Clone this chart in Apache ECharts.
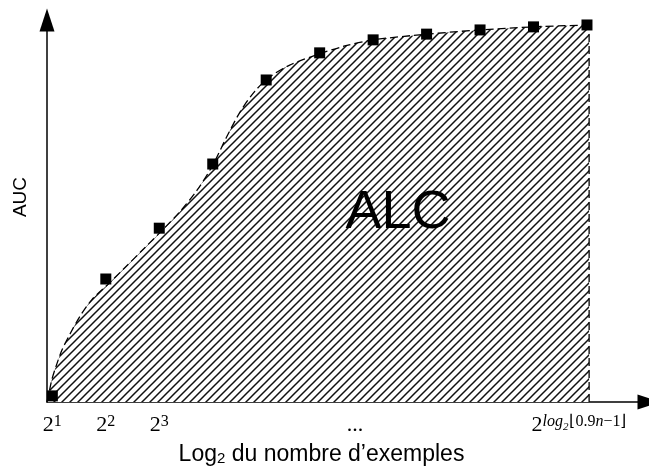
<!DOCTYPE html>
<html><head><meta charset="utf-8">
<script src="https://cdn.jsdelivr.net/npm/echarts@6/dist/echarts.min.js"></script>
<style>html,body{margin:0;padding:0;background:#fff}#c{width:649px;height:468px}</style>
</head><body><div id="c"></div>
<script>
// Square markers: x = log2 exponent, y = AUC (relative)
const markX = [1, 2, 3, 4, 5, 6, 7, 8, 9, 10, 11];
const markY = [0.016, 0.322, 0.455, 0.623, 0.843, 0.914, 0.948, 0.963, 0.974, 0.982, 0.987];
// Dashed learning curve
const curveX = [0.9, 0.94, 0.99, 1.07, 1.18, 1.33, 1.52, 1.74, 2.04, 2.36, 2.73, 3.03, 3.39, 3.71, 4.0, 4.25, 4.51, 4.79, 5.07, 5.44, 5.99, 6.47, 7.0, 8.02, 9.0, 9.99, 11.04];
const curveY = [0, 0.026, 0.058, 0.094, 0.136, 0.178, 0.225, 0.268, 0.308, 0.352, 0.404, 0.446, 0.499, 0.555, 0.62, 0.691, 0.759, 0.814, 0.851, 0.882, 0.911, 0.932, 0.948, 0.963, 0.974, 0.982, 0.987];
// Right edge of the area
const edgeX = [11.04, 11.04];
const edgeY = [0, 0.987];
// X tick labels
const tickValues = [1, 2, 3, 6.66, 10.85];
const tickLabels = [
  '{b|2}{sup|1}',
  '{b|2}{sup|2}',
  '{b|2}{sup|3}',
  '{b|...}',
  '{b|2}{si|log}{ss|2}{sup|\u230A0.9}{si|n}{sup|\u22121\u230B}'
];
const xAxisName = '{n|Log}{s|2}{n| du nombre d\u2019exemples}';
const yAxisName = 'AUC';
const areaText = 'ALC';

function hatch() {
  const s = 8;
  const c = document.createElement('canvas');
  c.width = s; c.height = s;
  const g = c.getContext('2d');
  g.fillStyle = '#fff'; g.fillRect(0, 0, s, s);
  g.strokeStyle = '#111'; g.lineWidth = 1.5;
  g.beginPath();
  g.moveTo(0, s); g.lineTo(s, 0);
  g.moveTo(-s / 2, s / 2); g.lineTo(s / 2, -s / 2);
  g.moveTo(s / 2, s * 1.5); g.lineTo(s * 1.5, s / 2);
  g.stroke();
  return c;
}

const zip = (a, b) => a.map((v, i) => [v, b[i]]);
const serif = 'Liberation Serif, Times New Roman, serif';
const sans = 'Liberation Sans, Arial, sans-serif';
const dash = { color: '#000', width: 1.3, type: [8, 4] };

const chart = echarts.init(document.getElementById('c'), null, { renderer: 'canvas' });
chart.setOption({
  animation: false,
  backgroundColor: '#fff',
  grid: { left: 47, right: 0, top: 20, bottom: 66, containLabel: false, outerBoundsMode: 'none' },
  xAxis: {
    type: 'value', min: 0.9, max: 12.16,
    axisLine: { show: true, symbol: ['none', 'triangle'], symbolSize: [15, 23], lineStyle: { color: '#000', width: 1.5 } },
    axisTick: { show: false },
    splitLine: { show: false },
    axisLabel: {
      customValues: tickValues,
      margin: 12,
      showMinLabel: true, showMaxLabel: true,
      formatter: function (v) {
        let best = 0;
        tickValues.forEach((t, i) => { if (Math.abs(t - v) < Math.abs(tickValues[best] - v)) best = i; });
        return tickLabels[best];
      },
      rich: {
        b: { fontFamily: serif, fontSize: 22, lineHeight: 22, color: '#000', verticalAlign: 'top' },
        sup: { fontFamily: serif, fontSize: 16, lineHeight: 15, color: '#000', verticalAlign: 'top' },
        si: { fontFamily: serif, fontStyle: 'italic', fontSize: 16, lineHeight: 15, color: '#000', verticalAlign: 'top' },
        ss: { fontFamily: serif, fontStyle: 'italic', fontSize: 11, lineHeight: 10, color: '#000', verticalAlign: 'top', padding: [8, 1, 0, 0] }
      }
    },
    name: xAxisName,
    nameLocation: 'middle',
    nameGap: 41,
    nameTextStyle: {
      padding: [0, 53, 0, 0],
      rich: {
        n: { fontFamily: sans, fontSize: 23, lineHeight: 23, color: '#000' },
        s: { fontFamily: sans, fontSize: 15, lineHeight: 10, color: '#000', verticalAlign: 'bottom' }
      }
    }
  },
  yAxis: {
    type: 'value', min: 0, max: 1,
    axisLine: { show: true, symbol: ['none', 'triangle'], symbolSize: [15, 23], lineStyle: { color: '#000', width: 1.5 } },
    axisTick: { show: false },
    axisLabel: { show: false },
    splitLine: { show: false },
    name: yAxisName,
    nameLocation: 'middle',
    nameRotate: 90,
    nameGap: 17,
    nameTextStyle: { fontFamily: sans, fontSize: 19, color: '#000', padding: [0, 0, 0, 28] }
  },
  graphic: [{
    type: 'text', x: 398, y: 213, z: 100,
    style: { text: areaText, fontFamily: sans, fontSize: 54, fill: '#000', align: 'center', verticalAlign: 'middle' }
  }],
  series: [
    {
      type: 'line', data: zip(curveX, curveY), smooth: 0.3, symbol: 'none',
      lineStyle: dash,
      areaStyle: { color: { image: hatch(), repeat: 'repeat' }, opacity: 1 },
      z: 2
    },
    {
      type: 'line', data: zip(edgeX, edgeY), symbol: 'none', lineStyle: dash, z: 3
    },
    {
      type: 'scatter', data: zip(markX, markY), symbol: 'rect', symbolSize: 11,
      itemStyle: { color: '#000', opacity: 1 }, z: 5
    }
  ]
});
</script>
</body></html>
